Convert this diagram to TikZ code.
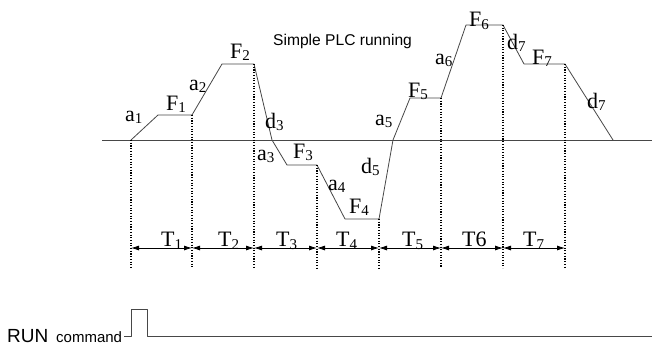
\documentclass[tikz,border=0pt]{standalone}
\usepackage{fontspec}
\setmainfont{Liberation Serif}
\setsansfont{Liberation Sans}
\usetikzlibrary{arrows.meta}
\newcommand\sbs[1]{\raisebox{-2.5pt}{\fontsize{15}{15}\selectfont #1}}
\tikzset{
  lbl/.style={font=\fontsize{22}{22}\selectfont, inner sep=0pt, anchor=base west},
  prof/.style={draw=black!72, line width=0.8pt, line join=round},
  dots/.style={draw=black, line width=1.1pt, dash pattern=on 1.1pt off 1.6pt},
  span/.style={draw=black, line width=0.8pt, {Latex[length=8pt,width=5pt]}-{Latex[length=8pt,width=5pt]}},
}
\begin{document}
\begin{tikzpicture}[x=1pt,y=-1pt]
\useasboundingbox (0,0) rectangle (652,345);
% profile points
\coordinate (p0) at (131,140);
\coordinate (p1) at (158,115);
\coordinate (p2) at (192,115);
\coordinate (p3) at (222,64);
\coordinate (p4) at (254,64);
\coordinate (p5) at (272,140);
\coordinate (p6) at (287,165);
\coordinate (p7) at (317,165);
\coordinate (p8) at (345,219);
\coordinate (p9) at (379,219);
\coordinate (p10) at (393,140);
\coordinate (p11) at (410,98);
\coordinate (p12) at (441,98);
\coordinate (p13) at (466,25);
\coordinate (p14) at (503,25);
\coordinate (p15) at (524,64);
\coordinate (p16) at (565,64);
\coordinate (p17) at (613,140);
% axis
\coordinate (axL) at (102,140);
\coordinate (axR) at (652,140);
\draw[prof] (axL) -- (axR);
\draw[prof] (p0) -- (p1) -- (p2) -- (p3) -- (p4) -- (p5) -- (p6) -- (p7) -- (p8) -- (p9) -- (p10) -- (p11) -- (p12) -- (p13) -- (p14) -- (p15) -- (p16) -- (p17);
% dotted verticals
\foreach \n/\x in {p0/131,p2/192,p4/254,p7/317,p9/379,p12/441,p14/503,p16/565}{
  \coordinate (b\n) at (\x,268);
  \coordinate (m\n) at (\x,248);
  \draw[dots] (\n) -- (b\n);
}
% spans
\draw[span] (mp0) -- (mp2);
\draw[span] (mp2) -- (mp4);
\draw[span] (mp4) -- (mp7);
\draw[span] (mp7) -- (mp9);
\draw[span] (mp9) -- (mp12);
\draw[span] (mp12) -- (mp14);
\draw[span] (mp14) -- (mp16);
% T labels
\node[lbl] (t1) at (161,246.5) {T\sbs{1}};
\node[lbl] (t2) at (218,246.5) {T\sbs{2}};
\node[lbl] (t3) at (276,246.5) {T\sbs{3}};
\node[lbl] (t4) at (336,246.5) {T\sbs{4}};
\node[lbl] (t5) at (402,246.5) {T\sbs{5}};
\node[lbl] (t6) at (462,246.5) {T6};
\node[lbl] (t7) at (523,246.5) {T\sbs{7}};
% profile labels
\node[lbl] (la1) at (125,121) {a\sbs{1}};
\node[lbl] (lF1) at (166,110) {F\sbs{1}};
\node[lbl] (la2) at (189,90) {a\sbs{2}};
\node[lbl] (lF2) at (230,58) {F\sbs{2}};
\node[lbl] (ld3) at (265,128) {d\sbs{3}};
\node[lbl] (la3) at (257,160) {a\sbs{3}};
\node[lbl] (lF3) at (293,158) {F\sbs{3}};
\node[lbl] (la4) at (328,190) {a\sbs{4}};
\node[lbl] (lF4) at (349,213) {F\sbs{4}};
\node[lbl] (ld5) at (361,173) {d\sbs{5}};
\node[lbl] (la5) at (375,125) {a\sbs{5}};
\node[lbl] (lF5) at (408,97) {F\sbs{5}};
\node[lbl] (la6) at (435,64) {a\sbs{6}};
\node[lbl] (lF6) at (469,27) {F\sbs{6}};
\node[lbl] (ld7a) at (507,49) {d\sbs{7}};
\node[lbl] (lF7) at (532,64) {F\sbs{7}};
\node[lbl] (ld7b) at (587,108) {d\sbs{7}};
% title
\node[inner sep=0pt, anchor=base west, font=\sffamily\fontsize{15.6}{15.6}\selectfont] (title) at (273,45.5) {Simple PLC running};
% RUN command
\node[inner sep=0pt, anchor=base west, font=\sffamily\fontsize{19}{19}\selectfont] (run) at (7,342) {RUN};
\node[inner sep=0pt, anchor=base west, font=\sffamily\fontsize{15}{15}\selectfont] (cmd) at (56,342) {command};
\coordinate (r0) at (124,336);
\coordinate (r1) at (131,336);
\coordinate (r2) at (131,309);
\coordinate (r3) at (147,309);
\coordinate (r4) at (147,336);
\coordinate (r5) at (652,336);
\draw[prof] (r0) -- (r1) -- (r2) -- (r3) -- (r4) -- (r5);
\end{tikzpicture}
\end{document}
